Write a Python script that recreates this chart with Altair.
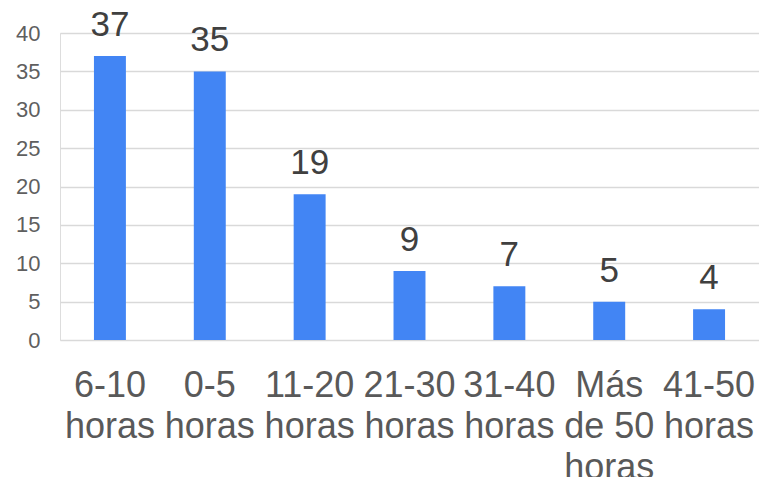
import altair as alt
import pandas as pd

categories = ["6-10 horas", "0-5 horas", "11-20 horas", "21-30 horas",
              "31-40 horas", "Más de 50 horas", "41-50 horas"]
label_lines = [["6-10", "horas"], ["0-5", "horas"], ["11-20", "horas"],
               ["21-30", "horas"], ["31-40", "horas"], ["Más", "de 50", "horas"],
               ["41-50", "horas"]]
values = [37, 35, 19, 9, 7, 5, 4]
y_ticks = [0, 5, 10, 15, 20, 25, 30, 35, 40]

df = pd.DataFrame({"cat": categories, "val": values})

mapping = "{" + ", ".join(
    "'" + c + "': [" + ", ".join("'" + s + "'" for s in lines) + "]"
    for c, lines in zip(categories, label_lines)) + "}"

FONT = "Liberation Sans"

x = alt.X("cat:N", sort=categories, title=None,
          scale=alt.Scale(paddingInner=0.68, paddingOuter=0.34),
          axis=alt.Axis(labelAngle=0, labelFontSize=36, labelColor="#595959",
                        labelFont=FONT, labelLineHeight=41, labelBaseline="top",
                        labelPadding=28, ticks=False, domain=False, grid=False,
                        labelExpr=mapping + "[datum.value]"))
y = alt.Y("val:Q", title=None,
          scale=alt.Scale(domain=[0, 40], nice=False),
          axis=alt.Axis(values=y_ticks, tickCount=9, labelFontSize=22,
                        labelColor="#5f5f5f", labelOverlap=False,
                        labelFont=FONT, labelPadding=20, ticks=False, domain=False,
                        gridColor="#d9d9d9", gridWidth=1.5))

base = alt.Chart(df).encode(x=x, y=y)
bars = base.mark_bar(color="#4285F4")
labels = base.mark_text(fontSize=35, font=FONT, color="#404040",
                        baseline="alphabetic", dy=-20).encode(text="val:Q")

chart = (bars + labels).properties(
    width=699, height=307,
    autosize=alt.AutoSizeParams(type="none"),
    padding={"left": 52, "top": 25, "right": 0, "bottom": 137},
).configure_view(stroke=None).configure(background="white")

chart.save("out.html", embed_options={"renderer": "svg", "actions": False})
